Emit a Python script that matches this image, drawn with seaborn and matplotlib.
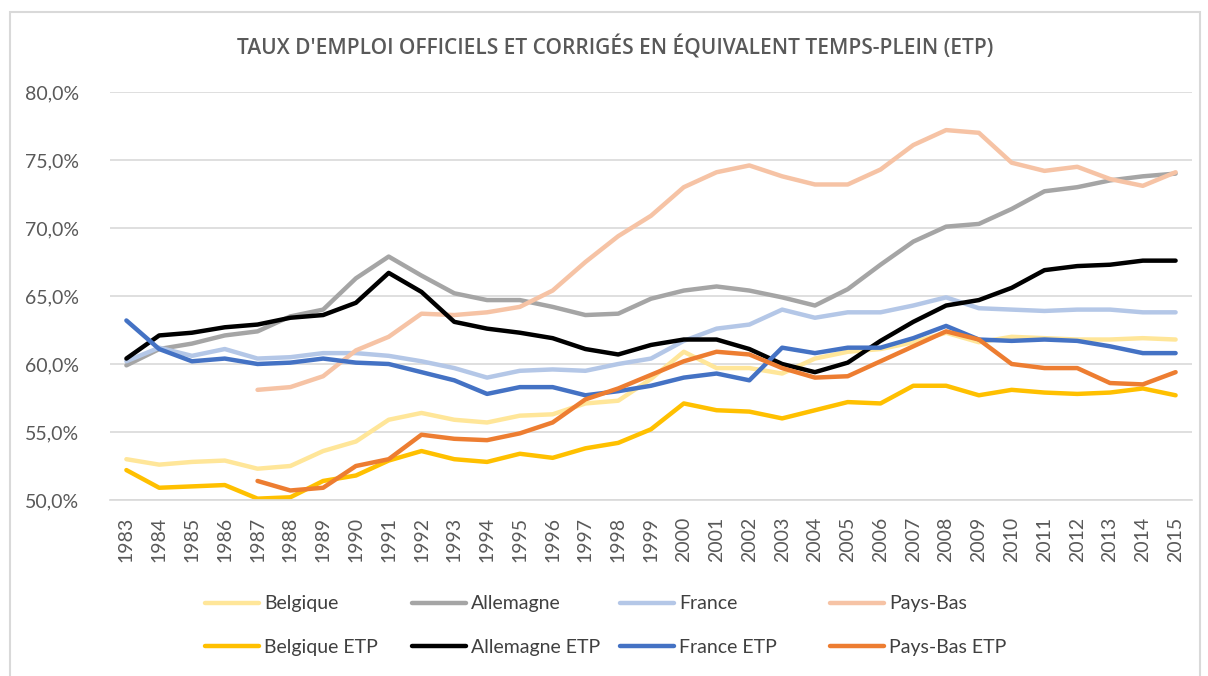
import numpy as np
import pandas as pd
import seaborn as sns
import matplotlib.pyplot as plt

from matplotlib.lines import Line2D
from matplotlib.patches import Rectangle
from matplotlib.ticker import FuncFormatter

years = list(range(1983, 2016))

belgique = [53.0, 52.6, 52.8, 52.9, 52.3, 52.5, 53.6, 54.3, 55.9,
            56.4, 55.9, 55.7, 56.2, 56.3, 57.1, 57.3, 58.9, 60.9,
            59.7, 59.7, 59.3, 60.4, 60.9, 61.1, 61.6, 62.3, 61.6,
            62.0, 61.9, 61.8, 61.8, 61.9, 61.8]
allemagne = [59.9, 61.1, 61.5, 62.1, 62.4, 63.5, 64.0, 66.3, 67.9,
             66.5, 65.2, 64.7, 64.7, 64.2, 63.6, 63.7, 64.8, 65.4,
             65.7, 65.4, 64.9, 64.3, 65.5, 67.3, 69.0, 70.1, 70.3,
             71.4, 72.7, 73.0, 73.5, 73.8, 74.0]
france = [60.2, 61.2, 60.6, 61.1, 60.4, 60.5, 60.8, 60.8, 60.6,
          60.2, 59.7, 59.0, 59.5, 59.6, 59.5, 60.0, 60.4, 61.7,
          62.6, 62.9, 64.0, 63.4, 63.8, 63.8, 64.3, 64.9, 64.1,
          64.0, 63.9, 64.0, 64.0, 63.8, 63.8]
pays_bas = [np.nan, np.nan, np.nan, np.nan, 58.1, 58.3, 59.1, 61.0, 62.0,
            63.7, 63.6, 63.8, 64.2, 65.4, 67.5, 69.4, 70.9, 73.0,
            74.1, 74.6, 73.8, 73.2, 73.2, 74.3, 76.1, 77.2, 77.0,
            74.8, 74.2, 74.5, 73.6, 73.1, 74.1]
belgique_etp = [52.2, 50.9, 51.0, 51.1, 50.1, 50.2, 51.4, 51.8, 52.9,
                53.6, 53.0, 52.8, 53.4, 53.1, 53.8, 54.2, 55.2, 57.1,
                56.6, 56.5, 56.0, 56.6, 57.2, 57.1, 58.4, 58.4, 57.7,
                58.1, 57.9, 57.8, 57.9, 58.2, 57.7]
allemagne_etp = [60.4, 62.1, 62.3, 62.7, 62.9, 63.4, 63.6, 64.5, 66.7,
                 65.3, 63.1, 62.6, 62.3, 61.9, 61.1, 60.7, 61.4, 61.8,
                 61.8, 61.1, 60.0, 59.4, 60.1, 61.7, 63.1, 64.3, 64.7,
                 65.6, 66.9, 67.2, 67.3, 67.6, 67.6]
france_etp = [63.2, 61.1, 60.2, 60.4, 60.0, 60.1, 60.4, 60.1, 60.0,
              59.4, 58.8, 57.8, 58.3, 58.3, 57.7, 58.0, 58.4, 59.0,
              59.3, 58.8, 61.2, 60.8, 61.2, 61.2, 61.9, 62.8, 61.8,
              61.7, 61.8, 61.7, 61.3, 60.8, 60.8]
pays_bas_etp = [np.nan, np.nan, np.nan, np.nan, 51.4, 50.7, 50.9, 52.5, 53.0,
                54.8, 54.5, 54.4, 54.9, 55.7, 57.4, 58.2, 59.2, 60.2,
                60.9, 60.7, 59.7, 59.0, 59.1, 60.2, 61.3, 62.4, 61.8,
                60.0, 59.7, 59.7, 58.6, 58.5, 59.4]

series = ["Belgique", "Allemagne", "France", "Pays-Bas",
          "Belgique ETP", "Allemagne ETP", "France ETP", "Pays-Bas ETP"]

palette = {
    "Belgique": "#FFE699",
    "Allemagne": "#A5A5A5",
    "France": "#B4C7E7",
    "Pays-Bas": "#F6C3A5",
    "Belgique ETP": "#FFC000",
    "Allemagne ETP": "#000000",
    "France ETP": "#4472C4",
    "Pays-Bas ETP": "#ED7D31",
}

title = "TAUX D'EMPLOI OFFICIELS ET CORRIGÉS EN ÉQUIVALENT TEMPS-PLEIN (ETP)"

sns.set_style("white")
plt.rcParams["font.family"] = ["Lato", "DejaVu Sans"]

wide = pd.DataFrame({
    "year": years,
    "Belgique": belgique,
    "Allemagne": allemagne,
    "France": france,
    "Pays-Bas": pays_bas,
    "Belgique ETP": belgique_etp,
    "Allemagne ETP": allemagne_etp,
    "France ETP": france_etp,
    "Pays-Bas ETP": pays_bas_etp,
})
df = wide.melt(id_vars="year", var_name="serie", value_name="taux").dropna()

fig = plt.figure(figsize=(12.08, 6.76), dpi=100)
ax = fig.add_axes([110 / 1208, 1 - 500 / 676, (1192 - 110) / 1208, (500 - 92) / 676])

sns.lineplot(
    data=df,
    x="year",
    y="taux",
    hue="serie",
    hue_order=series,
    palette=palette,
    linewidth=3.2,
    errorbar=None,
    legend=False,
    ax=ax,
)

ax.set_xlim(1982.5, 2015.5)
ax.set_ylim(50, 80)
ax.set_xticks(years)
ax.set_xticklabels([str(y) for y in years], rotation=90)
ax.set_yticks(np.arange(50, 81, 5))
ax.yaxis.set_major_formatter(FuncFormatter(lambda v, p: f"{v:.1f}%".replace(".", ",")))
ax.set_xlabel("")
ax.set_ylabel("")

ax.set_axisbelow(True)
ax.yaxis.grid(True, color="#D9D9D9", linewidth=1.2)
ax.xaxis.grid(False)
for s in ["top", "right", "left"]:
    ax.spines[s].set_visible(False)
ax.spines["bottom"].set_color("#D9D9D9")
ax.spines["bottom"].set_linewidth(1.2)
ax.tick_params(axis="both", length=0, colors="#595959", labelsize=14)
ax.tick_params(axis="x", pad=12)
ax.tick_params(axis="y", pad=22)

fig.text(0.509, 1 - 47 / 676, title, ha="center", va="center",
         fontsize=15, fontweight="semibold", color="#595959",
         family=["Open Sans", "DejaVu Sans"])

# legend: one little legend per country so the columns stay evenly spaced
col_x = [205, 412, 620, 830]
for i, name in enumerate(["Belgique", "Allemagne", "France", "Pays-Bas"]):
    handles = [
        Line2D([0], [0], color=palette[name], linewidth=3.2, label=name),
        Line2D([0], [0], color=palette[name + " ETP"], linewidth=3.2, label=name + " ETP"),
    ]
    fig.legend(
        handles=handles,
        loc="center left",
        bbox_to_anchor=(col_x[i] / 1208, 1 - 625.5 / 676),
        frameon=False,
        fontsize=14,
        labelcolor="#404040",
        handlelength=2.8,
        handletextpad=0.25,
        labelspacing=1.35,
        borderpad=0,
        borderaxespad=0,
    )

fig.patches.append(Rectangle((10 / 1208, -0.1), (1200 - 10) / 1208, 1.1 - 12 / 676,
                             transform=fig.transFigure, fill=False,
                             edgecolor="#D9D9D9", linewidth=1.5))

fig.savefig("out.png", dpi=100)
